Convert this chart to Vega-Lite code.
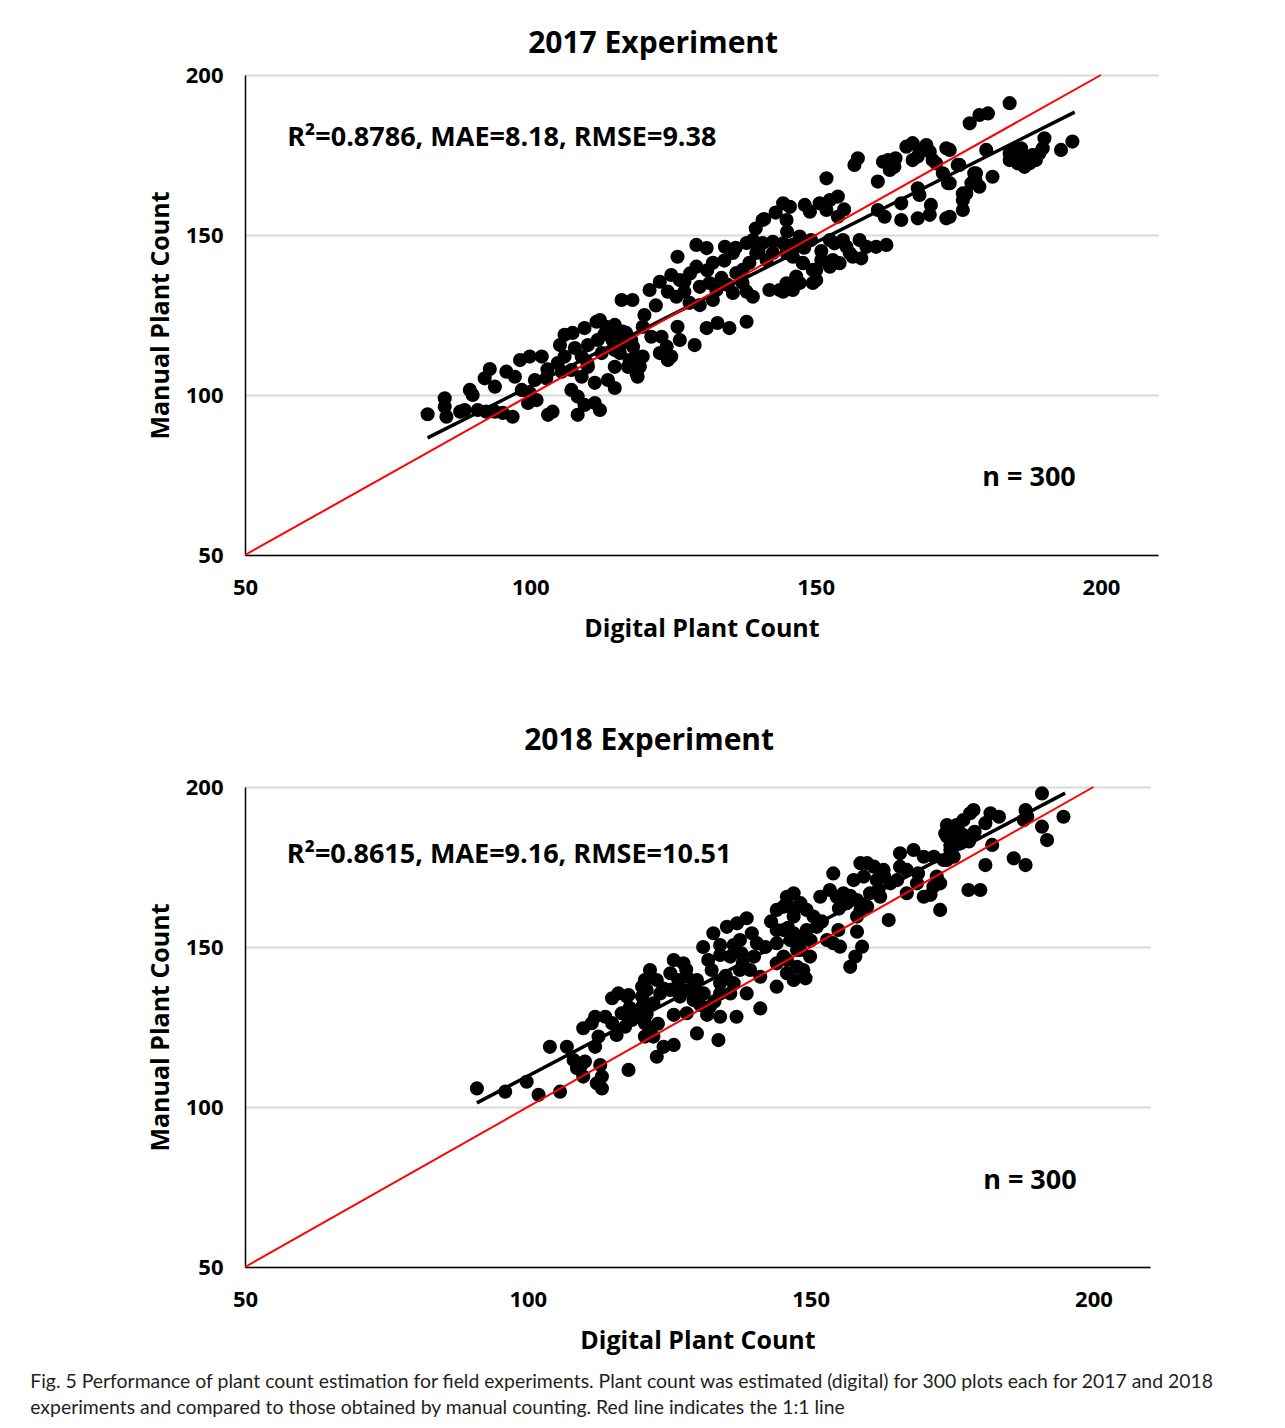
{
"$schema": "https://vega.github.io/schema/vega-lite/v6.json",
"padding": {"left": 30, "top": 29, "right": 20, "bottom": 10},
"background": "white",
"config": {
 "font": "Open Sans",
 "view": {"stroke": null},
 "axis": {"labelFont": "Open Sans", "labelFontWeight": "bold", "labelFontSize": 22, "labelColor": "#000", "labelFlush": false, "titleFont": "Open Sans", "titleFontWeight": "bold", "titleFontSize": 25, "titleColor": "#000", "ticks": false, "tickSize": 0, "domainColor": "#000", "domainWidth": 1.5, "gridColor": "#d9d9d9", "gridWidth": 2},
 "title": {"font": "Open Sans", "fontSize": 30, "fontWeight": "bold", "color": "#000", "frame": "bounds", "anchor": "middle", "offset": 5}
},
"title": {"text": ["Fig. 5  Performance of plant count estimation for field experiments. Plant count was estimated (digital) for 300 plots each for 2017 and 2018", "experiments and compared to those obtained by manual counting. Red line indicates the 1:1 line"], "orient": "bottom", "anchor": "start", "frame": "bounds", "font": "Lato", "fontSize": 19.4, "fontWeight": "normal", "color": "#231f20", "lineHeight": 26, "offset": 20, "dx": -118},
"spacing": 85,
"datasets": {
 "pts2017": [
{"digital":82,"manual":94},{"digital":85,"manual":99},{"digital":85,"manual":96.3},{"digital":85.3,"manual":93.2},{"digital":87.7,"manual":94.8},{"digital":89.4,"manual":101.6},{"digital":89.9,"manual":100},{"digital":88.5,"manual":95.3},{"digital":90.8,"manual":95.3},{"digital":92.3,"manual":94.8},{"digital":93.8,"manual":94.8},{"digital":95.2,"manual":94.4},{"digital":96.9,"manual":93.2},{"digital":92,"manual":105.2},{"digital":92.9,"manual":108.1},{"digital":93.8,"manual":102.6},{"digital":95.8,"manual":107.3},{"digital":97.3,"manual":105.7},{"digital":98.2,"manual":110.9},{"digital":99.9,"manual":112},{"digital":102,"manual":112},{"digital":98.5,"manual":101.6},{"digital":99.9,"manual":100.6},{"digital":101.1,"manual":98.4},{"digital":99.6,"manual":97.5},{"digital":100.8,"manual":104.7},{"digital":102.8,"manual":105.2},{"digital":104.8,"manual":110},{"digital":105.5,"manual":107.3},{"digital":103.1,"manual":93.8},{"digital":103.9,"manual":94.8},{"digital":105.2,"manual":115.6},{"digital":106,"manual":118.8},{"digital":107.4,"manual":119.4},{"digital":109.5,"manual":120.9},{"digital":111.6,"manual":122.9},{"digital":114.8,"manual":121.9},{"digital":116.2,"manual":119.8},{"digital":107.8,"manual":114.7},{"digital":109,"manual":112},{"digital":110.1,"manual":115.6},{"digital":111.8,"manual":117.2},{"digital":112.5,"manual":113.1},{"digital":114.8,"manual":114.1},{"digital":107.2,"manual":107.8},{"digital":109,"manual":105.7},{"digital":110.1,"manual":108.8},{"digital":111.3,"manual":103.8},{"digital":107.2,"manual":101.6},{"digital":108.3,"manual":99.5},{"digital":109.5,"manual":96.9},{"digital":108.3,"manual":93.8},{"digital":111.3,"manual":97.5},{"digital":112.2,"manual":95.3},{"digital":113.6,"manual":104.7},{"digital":114.8,"manual":102.2},{"digital":116,"manual":129.7},{"digital":117.9,"manual":129.7},{"digital":117.7,"manual":117.2},{"digital":118.8,"manual":112},{"digital":118.8,"manual":105.7},{"digital":117.1,"manual":108.8},{"digital":114.8,"manual":108.8},
{"digital":112.2,"manual":123.4},{"digital":113.3,"manual":121.3},{"digital":115.1,"manual":120.3},{"digital":114.4,"manual":117.2},{"digital":116.8,"manual":119.4},{"digital":115.7,"manual":113.1},{"digital":118,"manual":115.1},{"digital":117.4,"manual":110.9},{"digital":119.2,"manual":108.8},{"digital":119.7,"manual":112},{"digital":118.6,"manual":106.9},{"digital":119.7,"manual":121.3},{"digital":121.2,"manual":118.2},{"digital":123,"manual":118.2},{"digital":123.9,"manual":115.1},{"digital":124.7,"manual":112},{"digital":125.8,"manual":121.3},{"digital":126.2,"manual":117.2},{"digital":128.8,"manual":115.6},{"digital":122.7,"manual":113.1},{"digital":124.1,"manual":110.9},{"digital":120.9,"manual":132.8},{"digital":122.7,"manual":135.4},{"digital":124.7,"manual":137.5},{"digital":126.2,"manual":135.9},{"digital":124.1,"manual":132.3},{"digital":125.6,"manual":130.7},{"digital":127,"manual":132.3},{"digital":127.9,"manual":128.8},{"digital":129.7,"manual":128.1},{"digital":127,"manual":135.4},{"digital":129.7,"manual":133.8},{"digital":131.4,"manual":135},{"digital":132.6,"manual":132.8},{"digital":132,"manual":129.7},{"digital":133.5,"manual":136.6},{"digital":134.6,"manual":134.4},{"digital":136.1,"manual":138.1},{"digital":135.5,"manual":131.9},{"digital":137.9,"manual":132.3},{"digital":139,"manual":130.7},{"digital":137.2,"manual":135},{"digital":125.8,"manual":143.2},{"digital":129.1,"manual":146.9},{"digital":129.1,"manual":140.1},{"digital":130.9,"manual":145.9},{"digital":132,"manual":141.3},{"digital":134.1,"manual":146.3},{"digital":135.5,"manual":144.4},{"digital":137.9,"manual":147.5},{"digital":139,"manual":148.4},{"digital":140.7,"manual":147.5},{"digital":142.5,"manual":147.9},{"digital":139.6,"manual":144.4},{"digital":141.4,"manual":142.2},{"digital":138.4,"manual":141.3},{"digital":137.2,"manual":139.1},{"digital":142.5,"manual":144.4},{"digital":146,"manual":146.9},{"digital":147.2,"manual":149.5},{"digital":149.2,"manual":148.4},{"digital":144.9,"manual":144.4},{"digital":147.7,"manual":141.3},{"digital":149.5,"manual":139.1},{"digital":147.2,"manual":135},{"digital":146,"manual":132.8},{"digital":149.5,"manual":135},{"digital":143.7,"manual":132.8},{"digital":141.9,"manual":132.8},{"digital":130.9,"manual":120.9},{"digital":132.8,"manual":122.5},{"digital":134.9,"manual":120.9},{"digital":137.9,"manual":122.9},{"digital":140.7,"manual":154.7},{"digital":144.9,"manual":154.7},
{"digital":144.3,"manual":159.9},{"digital":145.5,"manual":158.8},{"digital":148.1,"manual":159.4},{"digital":149,"manual":157.3},{"digital":150.7,"manual":159.9},{"digital":152.5,"manual":160.9},{"digital":153.9,"manual":162},{"digital":151.9,"manual":157.8},{"digital":153.9,"manual":155.7},{"digital":151.9,"manual":167.7},{"digital":157.4,"manual":174},{"digital":156.8,"manual":171.9},{"digital":161.8,"manual":172.9},{"digital":162.7,"manual":173.4},{"digital":163.8,"manual":171.3},{"digital":163,"manual":170.3},{"digital":160.9,"manual":166.7},{"digital":165.9,"manual":177.6},{"digital":167,"manual":178.7},{"digital":168.2,"manual":176.6},{"digital":169.4,"manual":178.1},{"digital":167,"manual":173.4},{"digital":167.9,"manual":174.5},{"digital":170.5,"manual":173.4},{"digital":171.1,"manual":172.4},{"digital":172.9,"manual":177.1},{"digital":175.2,"manual":171.9},{"digital":172.3,"manual":169.3},{"digital":173.2,"manual":166.2},{"digital":179.9,"manual":176.6},{"digital":178.1,"manual":169.3},{"digital":181,"manual":168.2},{"digital":178.7,"manual":165.1},{"digital":177.3,"manual":166.2},{"digital":175.8,"manual":163},{"digital":175.8,"manual":160.9},{"digital":175.8,"manual":157.8},{"digital":167.9,"manual":164.6},{"digital":168.2,"manual":162.5},{"digital":165,"manual":159.9},{"digital":170.2,"manual":159.4},{"digital":170,"manual":156.3},{"digital":167.9,"manual":155.2},{"digital":165,"manual":154.7},{"digital":172.9,"manual":155.2},{"digital":160.9,"manual":157.8},{"digital":162.1,"manual":155.7},{"digital":144.3,"manual":147.4},{"digital":146,"manual":143.2},{"digital":147.8,"manual":141.2},{"digital":151,"manual":142.2},{"digital":152.5,"manual":148.4},{"digital":153.3,"manual":147.4},{"digital":154.8,"manual":148.4},{"digital":155.4,"manual":146.3},{"digital":156,"manual":144.3},{"digital":157.7,"manual":148.4},{"digital":158.9,"manual":146.3},{"digital":160.6,"manual":146.3},{"digital":162.4,"manual":146.9},{"digital":153,"manual":142.2},{"digital":154.2,"manual":141.2},{"digital":156.5,"manual":143.2},{"digital":158,"manual":142.7},{"digital":146.6,"manual":137},{"digital":144.9,"manual":134.9},{"digital":150.1,"manual":135.9},{"digital":144.3,"manual":132.3},{"digital":150.1,"manual":139.1},{"digital":152.5,"manual":140.1},
{"digital":177,"manual":184.9},{"digital":178.7,"manual":187.5},{"digital":180.2,"manual":188},{"digital":184,"manual":191.2},{"digital":173.5,"manual":176.6},{"digital":174.9,"manual":171.9},{"digital":184,"manual":175.5},{"digital":185.1,"manual":176.6},{"digital":186,"manual":177.1},{"digital":184,"manual":173.4},{"digital":185.4,"manual":172.4},{"digital":186.6,"manual":171.3},{"digital":187.5,"manual":172.4},{"digital":188.6,"manual":173.4},{"digital":189.2,"manual":175.5},{"digital":190.1,"manual":180.2},{"digital":189.8,"manual":177.1},{"digital":193,"manual":176.6},{"digital":195,"manual":179.2},{"digital":177.8,"manual":169.3},{"digital":176.4,"manual":163},{"digital":173.5,"manual":155.7},{"digital":173.5,"manual":166.2},{"digital":141,"manual":155},{"digital":143,"manual":157},{"digital":139.5,"manual":152},
{"digital":103,"manual":108},{"digital":106,"manual":112},{"digital":110,"manual":110},{"digital":113,"manual":119},{"digital":116,"manual":116},{"digital":120,"manual":125},{"digital":122,"manual":128},{"digital":128,"manual":138},{"digital":131,"manual":139},{"digital":134,"manual":142},{"digital":136,"manual":146},{"digital":140,"manual":145},{"digital":145,"manual":151},{"digital":148,"manual":146},{"digital":151,"manual":145},{"digital":155,"manual":158},{"digital":164,"manual":174},{"digital":170,"manual":176},{"digital":186,"manual":174},{"digital":188,"manual":175},{"digital":178,"manual":167}
 ],
 "pts2018": [
{"digital":91,"manual":105.8},{"digital":96,"manual":104.8},{"digital":99.8,"manual":107.9},{"digital":101.9,"manual":103.8},{"digital":105.7,"manual":104.8},{"digital":103.9,"manual":118.8},{"digital":106.9,"manual":118.8},{"digital":108.1,"manual":114.7},{"digital":109.3,"manual":112.6},{"digital":109.8,"manual":109.5},{"digital":108.7,"manual":112.1},{"digital":110.1,"manual":114.2},{"digital":112.8,"manual":113.1},{"digital":113.1,"manual":109.5},{"digital":112.2,"manual":107.4},{"digital":113.1,"manual":105.8},{"digital":117.8,"manual":111.6},{"digital":109.8,"manual":124.6},{"digital":111.3,"manual":126.2},{"digital":111.9,"manual":128.2},{"digital":112.5,"manual":122},{"digital":111.9,"manual":118.8},{"digital":113.7,"manual":128.2},{"digital":114.9,"manual":126.2},{"digital":115.7,"manual":122.5},{"digital":116.6,"manual":129.3},{"digital":117.2,"manual":125.1},{"digital":118.4,"manual":127.2},{"digital":119.9,"manual":129.3},{"digital":120.7,"manual":126.2},{"digital":120.7,"manual":122},{"digital":114.9,"manual":134},{"digital":116,"manual":135.5},{"digital":117.8,"manual":135},{"digital":120.2,"manual":137.6},{"digital":120.2,"manual":134.5},{"digital":120.2,"manual":131.3},
{"digital":117.5,"manual":134.5},{"digital":116.9,"manual":129.3},{"digital":121.6,"manual":124.1},{"digital":122.2,"manual":122},{"digital":124,"manual":118.8},{"digital":125.8,"manual":119.4},{"digital":122.8,"manual":115.7},{"digital":129.9,"manual":123},{"digital":133.7,"manual":120.9},{"digital":141.1,"manual":130.8},{"digital":138.7,"manual":135.5},{"digital":121.6,"manual":142.8},{"digital":120.7,"manual":139.7},{"digital":121,"manual":136.6},{"digital":122.8,"manual":139.7},{"digital":123.4,"manual":135.5},{"digital":122.2,"manual":132.4},{"digital":125.8,"manual":145.9},{"digital":127.5,"manual":144.9},{"digital":125.2,"manual":141.8},{"digital":126.6,"manual":139.7},{"digital":128.1,"manual":140.7},{"digital":129.9,"manual":139.7},{"digital":128.7,"manual":136.6},{"digital":125.2,"manual":136.6},{"digital":126.9,"manual":134.5},{"digital":129.3,"manual":133.4},{"digital":125.8,"manual":128.8},{"digital":128.1,"manual":129.3},{"digital":130.5,"manual":131.9},{"digital":132.2,"manual":131.3},{"digital":134,"manual":128.2},{"digital":136.9,"manual":128.2},{"digital":131.7,"manual":128.8},{"digital":131.1,"manual":135.5},{"digital":134,"manual":135.5},{"digital":135.8,"manual":135.5},{"digital":136.4,"manual":138.7},{"digital":134,"manual":138.7},{"digital":132.5,"manual":142.8},{"digital":131.9,"manual":145.9},{"digital":134,"manual":147.5},{"digital":135.8,"manual":147},{"digital":137.5,"manual":142.8},{"digital":139.3,"manual":142.8},{"digital":141.1,"manual":140.7},{"digital":132.8,"manual":154.3},{"digital":135.2,"manual":156.3},{"digital":137,"manual":157.4},{"digital":138.7,"manual":159},{"digital":139.6,"manual":154.3},{"digital":140.5,"manual":151.2},{"digital":137.5,"manual":152.2},{"digital":136.4,"manual":150.6},{"digital":134,"manual":150.6},{"digital":137.8,"manual":148},{"digital":144,"manual":151.2},{"digital":144,"manual":155.3},{"digital":144,"manual":161.6},{"digital":145.8,"manual":163.7},{"digital":145.8,"manual":165.7},{"digital":147,"manual":159.5},{"digital":146.4,"manual":152.2},{"digital":145.2,"manual":147},{"digital":144,"manual":144.9},{"digital":145.8,"manual":141.8},{"digital":144,"manual":137.6},{"digital":147,"manual":139.7},{"digital":147.6,"manual":149.1},{"digital":147.6,"manual":143.8},
{"digital":145.2,"manual":155.3},{"digital":147,"manual":154.3},{"digital":148.2,"manual":152.2},{"digital":149.3,"manual":155.3},{"digital":148.2,"manual":149.1},{"digital":149.9,"manual":147},{"digital":148.7,"manual":142.8},{"digital":149.1,"manual":140.2},{"digital":145.8,"manual":145.9},{"digital":147,"manual":166.8},{"digital":145.2,"manual":162.6},{"digital":147,"manual":161.6},{"digital":148.2,"manual":163.7},{"digital":149.3,"manual":161.6},{"digital":150.5,"manual":159.5},{"digital":151.1,"manual":156.3},{"digital":151.7,"manual":165.7},{"digital":152.9,"manual":152.2},{"digital":154,"manual":151.2},{"digital":155.2,"manual":150.1},{"digital":157,"manual":143.8},{"digital":157.9,"manual":147},{"digital":159.1,"manual":150.1},{"digital":158.2,"manual":154.8},{"digital":154.9,"manual":155.3},{"digital":154,"manual":173},{"digital":153.4,"manual":167.8},{"digital":154.6,"manual":165.7},{"digital":155.8,"manual":166.8},{"digital":156.4,"manual":163.7},{"digital":158.2,"manual":164.7},{"digital":158.8,"manual":176.2},{"digital":160,"manual":176.2},{"digital":161.2,"manual":175.1},{"digital":159.4,"manual":172},{"digital":157.6,"manual":170.9},{"digital":161.7,"manual":170.9},{"digital":160.5,"manual":166.8},{"digital":162.3,"manual":165.7},{"digital":158.8,"manual":161.6},{"digital":158.2,"manual":159.5},{"digital":160,"manual":162.6},{"digital":162.9,"manual":174.1},{"digital":163.8,"manual":158.4},{"digital":164.1,"manual":169.9},{"digital":165.3,"manual":170.9},{"digital":165.8,"manual":175.1},{"digital":165.8,"manual":179.3},{"digital":168.2,"manual":180.3},{"digital":170,"manual":178.2},{"digital":167,"manual":174.1},{"digital":167,"manual":166.8},{"digital":168.8,"manual":169.9},{"digital":170,"manual":165.7},{"digital":171.7,"manual":168.8},{"digital":172.3,"manual":172},{"digital":172.9,"manual":161.6},{"digital":173.5,"manual":177.2},{"digital":174.1,"manual":184.5},{"digital":175.3,"manual":178.2},{"digital":174.7,"manual":180.3},
{"digital":190.9,"manual":198},{"digital":194.7,"manual":190.7},{"digital":188,"manual":192.8},{"digital":188.3,"manual":190.7},{"digital":187.7,"manual":189.7},{"digital":190.9,"manual":187.6},{"digital":191.8,"manual":183.4},{"digital":185.9,"manual":177.7},{"digital":188,"manual":175.6},{"digital":182.1,"manual":181.9},{"digital":180.9,"manual":175.6},{"digital":177.9,"manual":167.8},{"digital":180,"manual":167.8},{"digital":178.8,"manual":192.8},{"digital":178.2,"manual":191.8},{"digital":181.8,"manual":191.8},{"digital":183.3,"manual":190.7},{"digital":180.9,"manual":188.7},{"digital":177,"manual":189.7},{"digital":174.1,"manual":188.1},{"digital":175.8,"manual":188.1},{"digital":173.8,"manual":185.5},{"digital":175.3,"manual":184.5},{"digital":177,"manual":185},{"digital":178.8,"manual":185},{"digital":174.7,"manual":181.9},{"digital":176.5,"manual":182.4},{"digital":171.8,"manual":178.2},{"digital":174.1,"manual":177.2},{"digital":172.9,"manual":169.9},{"digital":171.2,"manual":166.3},
{"digital":118,"manual":131},{"digital":121,"manual":129},{"digital":123,"manual":126},{"digital":124,"manual":137},{"digital":127,"manual":137},{"digital":130,"manual":136},{"digital":133,"manual":133},{"digital":135,"manual":141},{"digital":138,"manual":145},{"digital":140,"manual":147},{"digital":142,"manual":150},{"digital":143,"manual":158},{"digital":146,"manual":156},{"digital":150,"manual":152},{"digital":152,"manual":158},{"digital":155,"manual":162},{"digital":157,"manual":166},{"digital":162,"manual":168},{"digital":163,"manual":172},{"digital":169,"manual":173},{"digital":176,"manual":187},{"digital":178,"manual":183},{"digital":179,"manual":186},{"digital":128,"manual":143},{"digital":131,"manual":150}
 ],
 "fit2017": [{"digital":82,"manual":86.6},{"digital":195.4,"manual":188.4}],
 "fit2018": [{"digital":91,"manual":101.3},{"digital":195,"manual":198.1}],
 "one": [{"digital":50,"manual":50},{"digital":200,"manual":200}],
 "txt2017": [{"digital":57.4,"manual":180.3,"label":"R²=0.8786, MAE=8.18, RMSE=9.38"},{"digital":179.2,"manual":74,"label":"n = 300"}],
 "txt2018": [{"digital":57.4,"manual":178.7,"label":"R²=0.8615, MAE=9.16, RMSE=10.51"},{"digital":180.5,"manual":76.9,"label":"n = 300"}]
},
"vconcat": [
 {
  "title": "2017 Experiment",
  "width": 913, "height": 480,
  "layer": [
   {"data": {"name": "pts2017"}, "mark": {"type": "circle", "size": 200, "color": "#000", "opacity": 1},
    "encoding": {
     "x": {"field": "digital", "type": "quantitative", "scale": {"domain": [50, 210], "nice": false, "zero": false}, "axis": {"values": [50, 100, 150, 200], "title": "Digital Plant Count", "grid": false, "labelPadding": 22, "titlePadding": 18}},
     "y": {"field": "manual", "type": "quantitative", "scale": {"domain": [50, 200], "nice": false, "zero": false}, "axis": {"values": [50, 100, 150, 200], "title": "Manual Plant Count", "grid": true, "labelPadding": 22, "titlePadding": 12}}
    }},
   {"data": {"name": "fit2017"}, "mark": {"type": "line", "color": "#000", "strokeWidth": 3.5},
    "encoding": {"x": {"field": "digital", "type": "quantitative"}, "y": {"field": "manual", "type": "quantitative"}}},
   {"data": {"name": "one"}, "mark": {"type": "line", "color": "#ff0000", "strokeWidth": 2},
    "encoding": {"x": {"field": "digital", "type": "quantitative"}, "y": {"field": "manual", "type": "quantitative"}}},
   {"data": {"name": "txt2017"}, "mark": {"type": "text", "align": "left", "baseline": "middle", "fontSize": 27, "fontWeight": "bold", "font": "Open Sans", "color": "#000"},
    "encoding": {"x": {"field": "digital", "type": "quantitative"}, "y": {"field": "manual", "type": "quantitative"}, "text": {"field": "label"}}}
  ]
 },
 {
  "title": {"text": "2018 Experiment", "offset": 20},
  "width": 905, "height": 480,
  "layer": [
   {"data": {"name": "pts2018"}, "mark": {"type": "circle", "size": 200, "color": "#000", "opacity": 1},
    "encoding": {
     "x": {"field": "digital", "type": "quantitative", "scale": {"domain": [50, 210], "nice": false, "zero": false}, "axis": {"values": [50, 100, 150, 200], "title": "Digital Plant Count", "grid": false, "labelPadding": 22, "titlePadding": 18}},
     "y": {"field": "manual", "type": "quantitative", "scale": {"domain": [50, 200], "nice": false, "zero": false}, "axis": {"values": [50, 100, 150, 200], "title": "Manual Plant Count", "grid": true, "labelPadding": 22, "titlePadding": 12}}
    }},
   {"data": {"name": "fit2018"}, "mark": {"type": "line", "color": "#000", "strokeWidth": 3.5},
    "encoding": {"x": {"field": "digital", "type": "quantitative"}, "y": {"field": "manual", "type": "quantitative"}}},
   {"data": {"name": "one"}, "mark": {"type": "line", "color": "#ff0000", "strokeWidth": 2},
    "encoding": {"x": {"field": "digital", "type": "quantitative"}, "y": {"field": "manual", "type": "quantitative"}}},
   {"data": {"name": "txt2018"}, "mark": {"type": "text", "align": "left", "baseline": "middle", "fontSize": 27, "fontWeight": "bold", "font": "Open Sans", "color": "#000"},
    "encoding": {"x": {"field": "digital", "type": "quantitative"}, "y": {"field": "manual", "type": "quantitative"}, "text": {"field": "label"}}}
  ]
 }
]
}
